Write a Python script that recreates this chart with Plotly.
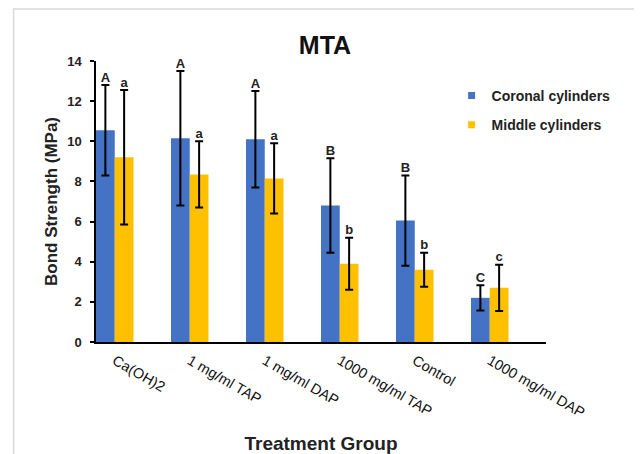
import plotly.graph_objects as go

groups = ["Ca(OH)2", "1 mg/ml TAP", "1 mg/ml DAP", "1000 mg/ml TAP", "Control", "1000 mg/ml DAP"]
coronal_mean = [10.55, 10.15, 10.1, 6.8, 6.05, 2.2]
coronal_sd = [2.25, 3.35, 2.4, 2.35, 2.25, 0.63]
middle_mean = [9.2, 8.35, 8.15, 3.9, 3.6, 2.7]
middle_sd = [3.35, 1.65, 1.75, 1.3, 0.85, 1.15]
coronal_letters = ["A", "A", "A", "B", "B", "C"]
middle_letters = ["a", "a", "a", "b", "b", "c"]
series_names = ["Coronal cylinders", "Middle cylinders"]
series_colors = ["#4472C4", "#FFC000"]

FONT = "Liberation Sans, Arial, sans-serif"
idx = list(range(len(groups)))
x_cor = [i - 0.375 for i in idx]
x_mid = [i - 0.125 for i in idx]

# page has an 8px body margin, so the figure is drawn 8px smaller and shifted
W, H = 634, 446
L, R, T, B = 88, 95.5, 53, 112.3
pw, ph = W - L - R, H - T - B

fig = go.Figure()
fig.add_trace(go.Bar(
    x=x_cor, y=coronal_mean, width=0.25, name=series_names[0], showlegend=False,
    marker=dict(color=series_colors[0], line=dict(width=0)),
    error_y=dict(type="data", array=coronal_sd, color="black", thickness=2, width=4),
))
fig.add_trace(go.Bar(
    x=x_mid, y=middle_mean, width=0.25, name=series_names[1], showlegend=False,
    marker=dict(color=series_colors[1], line=dict(width=0)),
    error_y=dict(type="data", array=middle_sd, color="black", thickness=2, width=4),
))
fig.add_trace(go.Scatter(
    x=x_cor + x_mid,
    y=[m + s for m, s in zip(coronal_mean, coronal_sd)] + [m + s for m, s in zip(middle_mean, middle_sd)],
    text=["<b>%s</b>" % t for t in coronal_letters + middle_letters], mode="text", textposition="top center",
    textfont=dict(family=FONT, size=13, color="#222"), showlegend=False, cliponaxis=False,
))
for nm, col in zip(series_names, series_colors):
    fig.add_trace(go.Scatter(
        x=[None], y=[None], mode="markers", name="<b>%s</b>" % nm, legendgroup=nm,
        marker=dict(symbol="square", size=7, color=col),
    ))

fig.update_layout(
    width=W, height=H, barmode="overlay",
    margin=dict(l=L, r=R, t=T, b=B, autoexpand=False),
    paper_bgcolor="white", plot_bgcolor="white",
    font=dict(family=FONT, color="#222"),
    title=dict(text="<b>MTA</b>", x=317 / W, xanchor="center", y=1 - 37 / H, yanchor="middle",
               font=dict(size=25, color="#111")),
    legend=dict(x=(444 - L) / pw, y=(H - B - 72) / ph, xanchor="left", yanchor="top",
                bgcolor="rgba(0,0,0,0)", traceorder="grouped", tracegroupgap=8,
                font=dict(size=14, family=FONT, color="#222"), itemwidth=30),
    showlegend=True,
)
fig.update_xaxes(
    range=[-0.5, 5.5], tickmode="array", tickvals=[i - 0.25 for i in idx],
    ticktext=groups, tickangle=30, ticks="", ticklabelstandoff=3,
    showline=True, linecolor="black", linewidth=1.5, showgrid=False, zeroline=False,
    tickfont=dict(size=14.5, family=FONT, color="#111"), automargin=False,
    title=dict(text="<b>Treatment Group</b>", font=dict(size=19, family=FONT, color="#222"), standoff=21),
)
fig.update_yaxes(
    range=[0, 14], dtick=2, ticks="outside", ticklen=4, tickcolor="black", tickwidth=1.5,
    showline=True, linecolor="black", linewidth=1.5, showgrid=False, zeroline=False,
    tickfont=dict(size=13, family=FONT, color="#222"), tickprefix="<b>", ticksuffix="</b>",
    ticklabelstandoff=6, automargin=False,
    title=dict(text="<b>Bond Strength (MPa)</b>", font=dict(size=17, family=FONT, color="#222"), standoff=5),
)
fig.add_shape(type="rect", xref="paper", yref="paper",
              x0=(5.5 - L) / pw, x1=(629 - L) / pw, y0=(H - B - 470) / ph, y1=(H - B - 1) / ph,
              line=dict(color="#d9d9d9", width=1.5), layer="below")
fig.write_html("out.html")
